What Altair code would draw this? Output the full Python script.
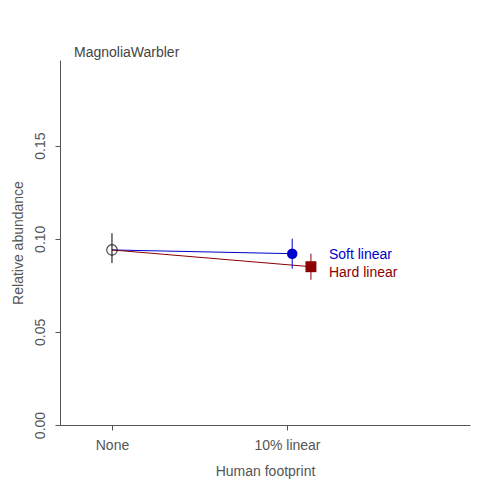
import altair as alt
import pandas as pd

# x: 1 = None, 2 = 10% linear (dodged a little)
labels = ["None", "Soft linear", "Hard linear"]
xs = [1.0, 2.03, 2.137]
means = [0.094, 0.092, 0.085]
lows = [0.087, 0.084, 0.078]
highs = [0.103, 0.100, 0.092]
colors = ["black", "#0000CD", "#8B0000"]

df = pd.DataFrame({"label": labels, "x": xs, "y": means, "lo": lows, "hi": highs, "c": colors})
seg = pd.DataFrame({"x": [xs[0], xs[1], xs[0], xs[2]], "y": [means[0], means[1], means[0], means[2]],
                    "s": ["soft", "soft", "hard", "hard"], "c": [colors[1]] * 2 + [colors[2]] * 2})

X = alt.X("x:Q", scale=alt.Scale(domain=[0.703, 3.046], nice=False, zero=False),
          axis=alt.Axis(values=[1, 2], labelExpr="datum.value == 1 ? 'None' : '10% linear'",
                        grid=False, domainColor="#555", tickColor="#555", labelColor="#555",
                        labelFontSize=14, title="Human footprint", titleFontSize=14,
                        titleFontWeight="normal", titleColor="#555", titlePadding=12, labelPadding=8))
Y = alt.Y("y:Q", scale=alt.Scale(domain=[0, 0.196], nice=False),
          axis=alt.Axis(values=[0, 0.05, 0.1, 0.15], format=".2f", labelAngle=-90, grid=False,
                        labelAlign="center", labelBaseline="bottom",
                        domainColor="#555", tickColor="#555", labelColor="#555", labelFontSize=14,
                        title="Relative abundance", titleFontSize=14, titleFontWeight="normal",
                        titleColor="#555", titlePadding=8, labelPadding=8))

lines = alt.Chart(seg).mark_line(strokeWidth=1).encode(
    x=X, y=Y, detail="s:N", color=alt.Color("c:N", scale=None))
errs = alt.Chart(df).mark_rule(strokeWidth=1).encode(
    x="x:Q", y="lo:Q", y2="hi:Q", color=alt.Color("c:N", scale=None))
open_pt = alt.Chart(df[df.label == "None"]).mark_point(shape="circle", size=110, filled=False,
                                                       color="black", strokeWidth=1.2).encode(x="x:Q", y="y:Q")
soft_pt = alt.Chart(df[df.label == "Soft linear"]).mark_point(shape="circle", size=110, filled=True,
                                                              color="#0000CD", opacity=1).encode(x="x:Q", y="y:Q")
hard_pt = alt.Chart(df[df.label == "Hard linear"]).mark_point(shape="square", size=120, filled=True,
                                                              color="#8B0000", opacity=1).encode(x="x:Q", y="y:Q")

lab = pd.DataFrame({"t": ["Soft linear", "Hard linear"], "x": [2.24, 2.24], "y": [0.0915, 0.0815],
                    "c": ["#0000CD", "#8B0000"]})
texts = alt.Chart(lab).mark_text(align="left", fontSize=14).encode(
    x="x:Q", y="y:Q", text="t:N", color=alt.Color("c:N", scale=None))

ttl = alt.Chart(pd.DataFrame({"t": ["MagnoliaWarbler"]})).mark_text(
    align="left", baseline="bottom", fontSize=14, color="#444").encode(
    x=alt.value(14), y=alt.value(0), text="t:N")

chart = (lines + errs + open_pt + soft_pt + hard_pt + texts + ttl).properties(
    width=410, height=365, autosize="none",
    padding={"left": 52, "top": 52, "right": 22, "bottom": 67},
).configure(font="Liberation Sans").configure_view(strokeWidth=0, stroke=None)

chart.save("out.html", embed_options={"renderer": "svg", "actions": False})
